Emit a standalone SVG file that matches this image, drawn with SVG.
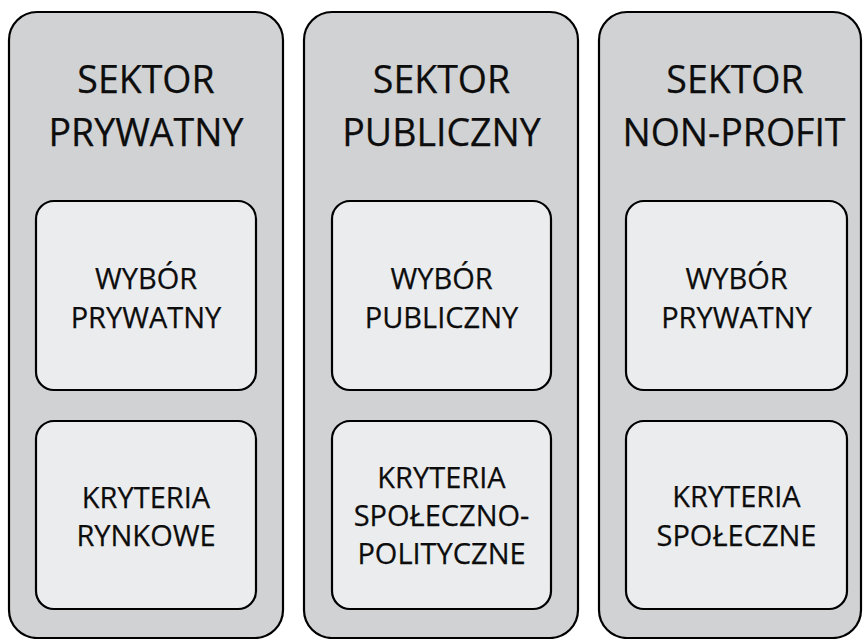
<svg xmlns="http://www.w3.org/2000/svg" width="865" height="639" viewBox="0 0 865 639">
  <style>
    .sector { fill: #d1d2d4; stroke: #000; stroke-width: 2.2; }
    .cell { fill: #ebeced; stroke: #000; stroke-width: 2.2; }
    text { font-family: "Open Sans", "Liberation Sans", sans-serif; fill: #0d0d0d; stroke: #0d0d0d; stroke-width: 0.25; text-anchor: middle; }
    .title { font-size: 37.5px; }
    .label { font-size: 29px; }
  </style>
  <rect width="865" height="639" fill="#fff"/>

  <!-- Sector: private -->
  <g id="sektor-prywatny">
    <rect class="sector" x="9" y="12" width="274" height="626" rx="28"/>
    <text class="title" x="146" y="93">SEKTOR</text>
    <text class="title" x="146" y="146">PRYWATNY</text>
  </g>
  <g id="wybor-prywatny-1">
    <rect class="cell" x="36" y="201" width="220" height="189" rx="18"/>
    <text class="label" x="146" y="289">WYBÓR</text>
    <text class="label" x="146" y="328">PRYWATNY</text>
  </g>
  <g id="kryteria-rynkowe">
    <rect class="cell" x="36" y="421" width="220" height="188" rx="18"/>
    <text class="label" x="146" y="508">KRYTERIA</text>
    <text class="label" x="146" y="546">RYNKOWE</text>
  </g>

  <!-- Sector: public -->
  <g id="sektor-publiczny">
    <rect class="sector" x="304" y="12" width="274" height="626" rx="28"/>
    <text class="title" x="441.5" y="93">SEKTOR</text>
    <text class="title" x="441.5" y="146">PUBLICZNY</text>
  </g>
  <g id="wybor-publiczny">
    <rect class="cell" x="332" y="201" width="219" height="189" rx="18"/>
    <text class="label" x="441.5" y="289">WYBÓR</text>
    <text class="label" x="441.5" y="328">PUBLICZNY</text>
  </g>
  <g id="kryteria-spoleczno-polityczne">
    <rect class="cell" x="332" y="421" width="219" height="188" rx="18"/>
    <text class="label" x="441.5" y="488">KRYTERIA</text>
    <text class="label" x="441.5" y="526">SPOŁECZNO-</text>
    <text class="label" x="441.5" y="564">POLITYCZNE</text>
  </g>

  <!-- Sector: non-profit -->
  <g id="sektor-non-profit">
    <rect class="sector" x="599" y="12" width="262" height="626" rx="28"/>
    <text class="title" x="735" y="93">SEKTOR</text>
    <text class="title" x="734" y="146">NON-PROFIT</text>
  </g>
  <g id="wybor-prywatny-2">
    <rect class="cell" x="626" y="201" width="221" height="189" rx="18"/>
    <text class="label" x="736.5" y="289">WYBÓR</text>
    <text class="label" x="736.5" y="328">PRYWATNY</text>
  </g>
  <g id="kryteria-spoleczne">
    <rect class="cell" x="626" y="421" width="221" height="188" rx="18"/>
    <text class="label" x="736.5" y="507">KRYTERIA</text>
    <text class="label" x="736.5" y="546">SPOŁECZNE</text>
  </g>

  <!-- no connectors in this diagram -->
  <g id="connectors"/>
</svg>
